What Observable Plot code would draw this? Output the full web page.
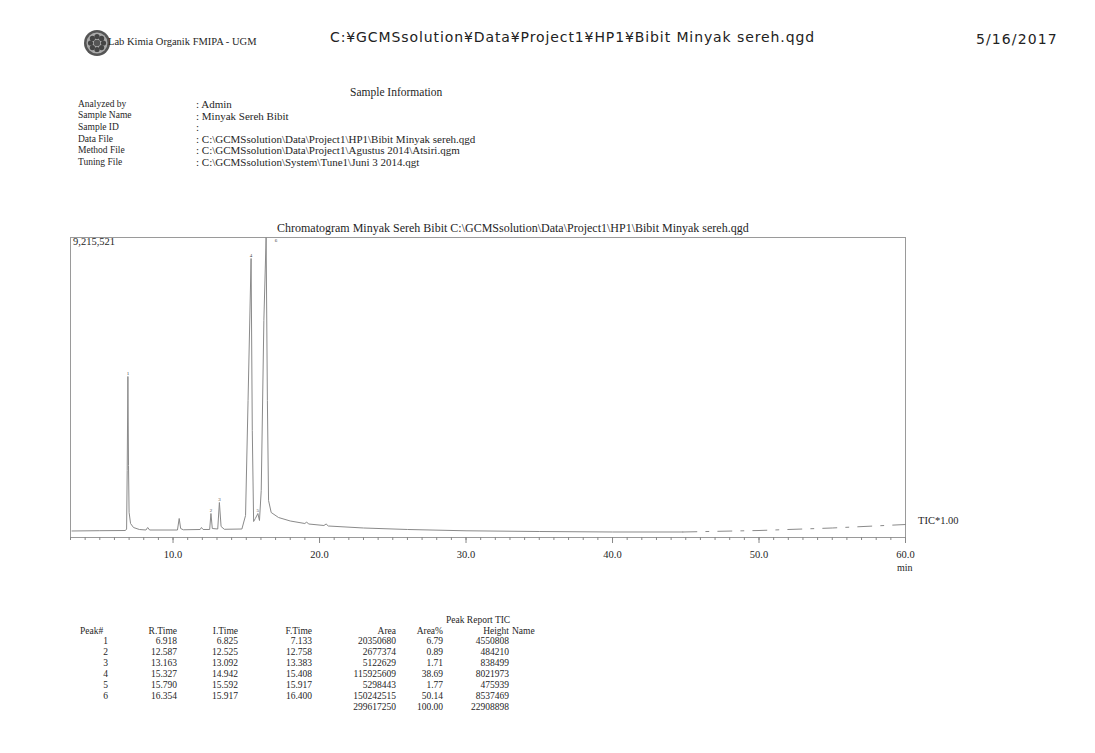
<!DOCTYPE html>
<html><head><meta charset="utf-8">
<script src="https://cdn.jsdelivr.net/npm/d3@7"></script>
<script src="https://cdn.jsdelivr.net/npm/@observablehq/plot@0.6"></script>
<style>
body{margin:0;background:#fff;}
#page{position:relative;width:1095px;height:753px;overflow:hidden;font-family:"Liberation Serif",serif;color:#262626;background:#fff;}
.t{position:absolute;white-space:nowrap;line-height:1;}
#chart{position:absolute;left:0;top:190px;}
</style></head><body><div id="page"><div id="chart"></div></div>
<script>
// ---------- texts ----------
const reportTitle = "C:¥GCMSsolution¥Data¥Project1¥HP1¥Bibit Minyak sereh.qgd";
const reportDate = "5/16/2017";
const labName = "Lab Kimia Organik FMIPA - UGM";
const infoLabels = ["Analyzed by", "Sample Name", "Sample ID", "Data File", "Method File", "Tuning File"];
const infoValues = [": Admin", ": Minyak Sereh Bibit", ":",
  ": C:\\GCMSsolution\\Data\\Project1\\HP1\\Bibit Minyak sereh.qgd",
  ": C:\\GCMSsolution\\Data\\Project1\\Agustus 2014\\Atsiri.qgm",
  ": C:\\GCMSsolution\\System\\Tune1\\Juni 3 2014.qgt"];
const chromTitle = "Chromatogram Minyak Sereh Bibit C:\\GCMSsolution\\Data\\Project1\\HP1\\Bibit Minyak sereh.qgd";
const maxLabel = "9,215,521";
const ticLabel = "TIC*1.00";
const xTicks = [10, 20, 30, 40, 50, 60];

// ---------- chromatogram trace (min, intensity) ----------
const traceT = [3.1, 5.0, 6.75, 6.83, 6.87, 6.918, 6.96, 7.0, 7.1, 7.3, 7.7, 8.15, 8.27, 8.4, 10.3, 10.42, 10.52, 10.7,
  11.85, 11.94, 12.05, 12.5, 12.587, 12.68, 13.05, 13.163, 13.28, 13.5, 14.7, 14.95, 15.12, 15.327, 15.41, 15.5,
  15.62, 15.79, 15.9, 16.02, 16.2, 16.354, 16.44, 16.52, 16.7, 17.2, 18.0, 19.0, 19.12, 19.25, 20.3, 20.45, 20.6,
  23.0, 26.0, 30.0, 35.0, 40.0, 44.8];
const traceI = [200000, 209000, 215000, 261000, 2058000, 4946000, 2212000, 768000, 430000, 307000, 246000, 230000, 307000, 230000, 230000, 584000, 276000, 237000,
  246000, 307000, 246000, 246000, 737000, 276000, 261000, 1075000, 338000, 252000, 261000, 676000, 4208000, 8570000, 3287000, 491000,
  584000, 737000, 522000, 1444000, 6666000, 9215521, 4208000, 1137000, 768000, 614000, 507000, 430000, 476000, 415000, 369000, 415000, 353000,
  292000, 246000, 206000, 184000, 169000, 169000];
const tailT = [44.8, 50.0, 55.0, 60.0];
const tailI = [169000, 215000, 292000, 399000];

// ---------- peak report ----------
const peakNum = [1, 2, 3, 4, 5, 6];
const rTime = ["6.918", "12.587", "13.163", "15.327", "15.790", "16.354"];
const iTime = ["6.825", "12.525", "13.092", "14.942", "15.592", "15.917"];
const fTime = ["7.133", "12.758", "13.383", "15.408", "15.917", "16.400"];
const area = ["20350680", "2677374", "5122629", "115925609", "5298443", "150242515"];
const areaPct = ["6.79", "0.89", "1.71", "38.69", "1.77", "50.14"];
const height = ["4550808", "484210", "838499", "8021973", "475939", "8537469"];
const totals = ["299617250", "100.00", "22908898"];
const peakApex = [4946000, 737000, 1075000, 8570000, 737000, 9215521];

const page = document.getElementById("page");
function txt(s, x, yc, size, o = {}) {
  const d = document.createElement("div");
  d.className = "t";
  d.textContent = s;
  d.style.fontSize = size + "px";
  d.style.top = (yc - size * 0.55) + "px";
  if (o.right) d.style.right = (1095 - x) + "px"; else d.style.left = x + "px";
  if (o.font) d.style.fontFamily = o.font;
  if (o.ls != null) d.style.letterSpacing = o.ls + "px";
  if (o.color) d.style.color = o.color;
  page.appendChild(d);
  return d;
}

// header
txt(reportTitle, 330, 38, 14, {font: "'DejaVu Sans', sans-serif", color: "#222", ls: 0.9});
txt(reportDate, 976, 40, 14, {font: "'DejaVu Sans', sans-serif", color: "#222", ls: 1.1});
const logo = document.createElementNS("http://www.w3.org/2000/svg", "svg");
logo.setAttribute("width", 30); logo.setAttribute("height", 30);
logo.style.position = "absolute"; logo.style.left = "82px"; logo.style.top = "28px";
let lg = '<circle cx="15" cy="15" r="13" fill="#555"/><circle cx="15" cy="15" r="10.5" fill="#aaa"/>';
for (let k = 0; k < 8; k++) { const a = k * Math.PI / 4; lg += `<circle cx="${15 + 6.5 * Math.cos(a)}" cy="${15 + 6.5 * Math.sin(a)}" r="2.6" fill="#444"/>`; }
lg += '<circle cx="15" cy="15" r="3.2" fill="#555"/>';
logo.innerHTML = lg; page.appendChild(logo);
txt(labName, 108, 43, 10.5);
txt("Sample Information", 350, 93, 11.5);
infoLabels.forEach((l, i) => {
  const y = 105 + i * 11.6;
  txt(l, 78, y, 9.5);
  txt(infoValues[i], 196, y, 11);
});

// chart texts
txt(chromTitle, 277, 229, 12);
txt(maxLabel, 73, 243, 10.5);
txt(ticLabel, 918, 522, 10.5);
txt("min", 897, 568, 10);

// ---------- plot ----------
const solid = traceT.map((t, i) => ({t, v: traceI[i]}));
const tail = tailT.map((t, i) => ({t, v: tailI[i]}));
const peaks = peakNum.map((n, i) => ({n, t: +rTime[i], v: peakApex[i]}));

const H = 400, top0 = 190;
const chart = Plot.plot({
  width: 1095, height: H,
  marginLeft: 70, marginRight: 1095 - 905,
  marginTop: 237 - top0, marginBottom: H - (537 - top0),
  x: {domain: [3, 60], label: null},
  y: {domain: [0, 9215521], axis: null},
  style: {fontFamily: "Liberation Serif", fontSize: "10.5px", color: "#262626", background: "transparent"},
  marks: [
    Plot.frame({stroke: "#9a9a9a", strokeWidth: 1}),
    Plot.axisX({ticks: d3.range(3, 61, 1), tickFormat: () => "", tickSize: 3, stroke: "#888", label: null}),
    Plot.axisX({ticks: xTicks, tickFormat: d => d.toFixed(1), tickSize: 6, tickPadding: 7, stroke: "#888", fill: "#262626", label: null}),
    Plot.line(solid, {x: "t", y: "v", stroke: "#8a8a8a", strokeWidth: 1}),
    Plot.line(tail, {x: "t", y: "v", stroke: "#8a8a8a", strokeWidth: 1, strokeDasharray: "14,9,3,9"}),
    Plot.text(peaks.filter(d => d.n !== 6), {x: "t", y: "v", text: d => String(d.n), fontSize: 5, dy: -3, fill: "#444"}),
    Plot.text(peaks.filter(d => d.n === 6), {x: "t", y: "v", text: d => String(d.n), fontSize: 5, dx: 10, dy: 3, fill: "#444"})
  ]
});
document.getElementById("chart").appendChild(chart);

// ---------- peak table ----------
txt("Peak Report TIC", 446, 621, 9.5);
const fs = 9.5;
txt("Peak#", 80, 632, fs);
txt("R.Time", 177, 632, fs, {right: true});
txt("I.Time", 238, 632, fs, {right: true});
txt("F.Time", 312, 632, fs, {right: true});
txt("Area", 396, 632, fs, {right: true});
txt("Area%", 443, 632, fs, {right: true});
txt("Height", 509, 632, fs, {right: true});
txt("Name", 512, 632, fs);
peakNum.forEach((n, i) => {
  const y = 642.5 + i * 10.9;
  txt(String(n), 108, y, fs, {right: true});
  txt(rTime[i], 177, y, fs, {right: true});
  txt(iTime[i], 238, y, fs, {right: true});
  txt(fTime[i], 312, y, fs, {right: true});
  txt(area[i], 396, y, fs, {right: true});
  txt(areaPct[i], 443, y, fs, {right: true});
  txt(height[i], 509, y, fs, {right: true});
});
txt(totals[0], 396, 708, fs, {right: true});
txt(totals[1], 443, 708, fs, {right: true});
txt(totals[2], 509, 708, fs, {right: true});
</script></body></html>
